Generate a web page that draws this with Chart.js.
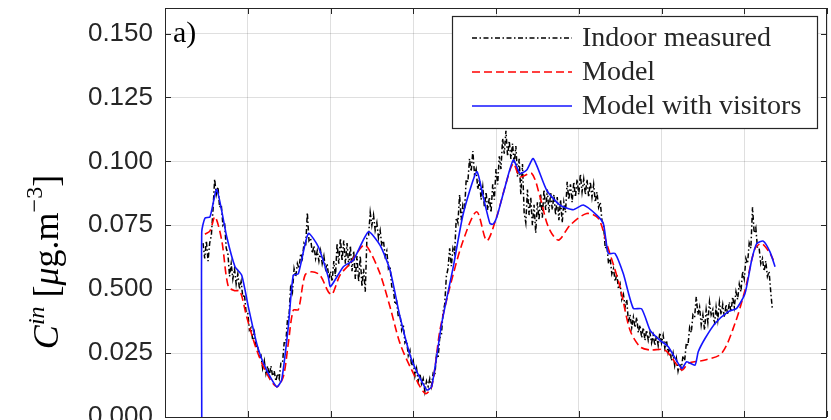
<!DOCTYPE html>
<html>
<head>
<meta charset="utf-8">
<script src="https://cdn.jsdelivr.net/npm/chart.js@4.4.1/dist/chart.umd.min.js"></script>
<style>
  html, body { margin: 0; padding: 0; background: #fff; overflow: hidden; }
  #wrap { width: 831px; height: 420px; }
</style>
</head>
<body>
<div id="wrap"><canvas id="myChart" width="831" height="420"></canvas></div>
<script>
// y tick labels as printed in the figure (including the "0.500" one)
var yTickValues = [0, 0.025, 0.05, 0.075, 0.1, 0.125, 0.15];
var yTickLabels = ['0.000', '0.025', '0.500', '0.075', '0.100', '0.125', '0.150'];

var seriesNames = ['Indoor measured', 'Model', 'Model with visitors'];

// Indoor measured: sampled every 0.02 from 0.46
var measStart = 0.46;
var measStep = 0.02;
var measY = [
  0.068,0.062,0.069,0.061,0.068,0.071,0.081,0.093,0.087,0.090,
  0.082,0.083,0.075,0.076,0.066,0.064,0.055,0.060,0.054,0.058,
  0.052,0.056,0.050,0.053,0.047,0.048,0.041,0.041,0.034,0.035,
  0.030,0.033,0.027,0.028,0.023,0.024,0.019,0.022,0.017,0.020,
  0.016,0.020,0.016,0.018,0.014,0.017,0.015,0.021,0.021,0.029,
  0.029,0.038,0.040,0.052,0.049,0.058,0.055,0.060,0.058,0.064,
  0.062,0.068,0.067,0.080,0.069,0.070,0.064,0.067,0.062,0.065,
  0.061,0.065,0.060,0.063,0.058,0.060,0.054,0.057,0.053,0.061,
  0.055,0.068,0.060,0.070,0.061,0.069,0.060,0.068,0.059,0.067,
  0.057,0.065,0.054,0.063,0.053,0.063,0.051,0.058,0.049,0.070,
  0.071,0.080,0.075,0.079,0.073,0.076,0.070,0.073,0.067,0.069,
  0.063,0.065,0.058,0.059,0.051,0.050,0.044,0.045,0.039,0.040,
  0.034,0.036,0.029,0.030,0.024,0.026,0.020,0.022,0.016,0.019,
  0.014,0.017,0.013,0.015,0.010,0.014,0.012,0.015,0.012,0.017,
  0.016,0.024,0.023,0.031,0.032,0.041,0.044,0.055,0.058,0.066,
  0.059,0.066,0.064,0.078,0.076,0.087,0.077,0.083,0.081,0.093,
  0.092,0.101,0.096,0.104,0.095,0.097,0.089,0.093,0.085,0.090,
  0.082,0.088,0.081,0.086,0.080,0.091,0.085,0.097,0.091,0.102,
  0.097,0.109,0.103,0.112,0.102,0.108,0.101,0.107,0.099,0.106,
  0.094,0.101,0.087,0.099,0.080,0.076,0.089,0.079,0.086,0.075,
  0.083,0.072,0.084,0.077,0.087,0.078,0.089,0.081,0.089,0.080,
  0.088,0.081,0.087,0.079,0.086,0.077,0.085,0.076,0.084,0.080,
  0.092,0.085,0.091,0.084,0.092,0.086,0.093,0.087,0.095,0.088,
  0.093,0.087,0.093,0.086,0.092,0.086,0.091,0.084,0.088,0.082,
  0.084,0.077,0.075,0.066,0.067,0.060,0.062,0.056,0.058,0.053,
  0.056,0.050,0.052,0.046,0.048,0.043,0.046,0.037,0.040,0.035,
  0.039,0.035,0.039,0.033,0.036,0.031,0.035,0.030,0.034,0.030,
  0.033,0.029,0.032,0.028,0.032,0.028,0.033,0.029,0.032,0.027,
  0.030,0.025,0.027,0.022,0.025,0.020,0.023,0.018,0.021,0.019,
  0.024,0.022,0.029,0.028,0.035,0.033,0.040,0.039,0.047,0.040,
  0.043,0.036,0.040,0.034,0.042,0.037,0.045,0.040,0.042,0.036,
  0.043,0.038,0.045,0.040,0.044,0.039,0.044,0.040,0.045,0.041,
  0.047,0.043,0.049,0.046,0.052,0.049,0.057,0.054,0.062,0.060,
  0.068,0.066,0.082,0.072,0.074,0.066,0.066,0.060,0.062,0.057,
  0.061,0.055,0.057,0.049,0.042];

// Model
var modelX = [0.483,0.544,0.604,0.685,0.765,0.846,0.906,0.987,1.108,1.229,1.35,1.43,1.49,1.55,1.611,1.692,1.773,1.873,1.973,2.02,
  2.115,2.236,2.396,2.457,2.598,2.719,2.84,2.981,3.142,3.223,3.323,3.444,3.605,3.767,3.888,4.008,4.109,4.209,4.29,4.431,
  4.532,4.632,4.753,4.894,5.096,5.236,5.338,5.498,5.619,5.74,5.861,6.042,6.244,6.324,6.526,6.727,6.888,7.009,7.13,7.211,
  7.311,7.351];
var modelY = [0.0715,0.0728,0.0783,0.0692,0.051,0.0494,0.0493,0.0392,0.0262,0.0171,0.0118,0.0158,0.0288,0.0418,0.042,0.0555,0.0568,0.0555,0.049,0.048,
  0.0555,0.060,0.0672,0.066,0.0561,0.0431,0.0288,0.0184,0.0092,0.0119,0.034,0.051,0.0692,0.0803,0.069,0.0783,0.09,0.0991,0.0939,0.0953,
  0.0861,0.0744,0.0692,0.075,0.0796,0.0777,0.0678,0.051,0.034,0.0275,0.0262,0.0262,0.0184,0.021,0.0223,0.0249,0.0366,0.0496,0.0659,0.0678,
  0.064,0.0614];

// Model with visitors
var visX = [0.444,0.444,0.483,0.544,0.625,0.746,0.846,0.927,1.007,1.108,1.208,1.35,1.41,1.49,1.55,1.611,1.732,1.853,1.973,2.0,
  2.155,2.276,2.457,2.598,2.719,2.84,2.981,3.162,3.223,3.344,3.484,3.605,3.767,3.846,3.927,3.967,4.008,4.088,4.209,4.29,
  4.371,4.451,4.613,4.773,4.934,5.055,5.217,5.297,5.357,5.438,5.538,5.659,5.76,5.861,5.921,5.982,6.082,6.244,6.305,6.405,
  6.444,6.526,6.647,6.807,6.908,7.009,7.09,7.15,7.23,7.311,7.372];
var visY = [0,0.0724,0.0778,0.0783,0.089,0.0705,0.0588,0.0555,0.0431,0.0288,0.0197,0.0118,0.0145,0.0353,0.0555,0.056,0.0718,0.0666,0.0548,0.051,
  0.0588,0.0614,0.0724,0.0672,0.0575,0.0392,0.0223,0.0106,0.0119,0.0366,0.0588,0.0796,0.0959,0.0861,0.0757,0.0755,0.078,0.0874,0.1005,0.0953,
  0.0966,0.1011,0.0887,0.0829,0.0811,0.0829,0.079,0.0757,0.064,0.064,0.0561,0.0425,0.0423,0.034,0.0318,0.030,0.0275,0.019,0.0216,0.0203,
  0.0255,0.0307,0.0366,0.0412,0.0425,0.0483,0.0614,0.0678,0.0688,0.0646,0.0588];

function toPoints(xs, ys) {
	var pts = [];
	for (var i = 0; i < ys.length; i++) {
		pts.push({x: xs[i], y: ys[i]});
	}
	return pts;
}

// sample times of the measurement
var measX = [];
for (var k = 0; k < measY.length; k++) {
	measX[k] = +(measStart + k * measStep).toFixed(2);
}

var axisColor = '#262626';
var serif = '"Liberation Serif", "Times New Roman", serif';

// box, inward ticks, panel label, y title, legend
var decorPlugin = {
	id: 'decor',
	afterDatasetsDraw: function(chart) {
		var ctx = chart.ctx;
		var a = chart.chartArea;
		var xs = chart.scales.x;
		var ys = chart.scales.y;
		var i;
		ctx.save();

		// frame
		ctx.strokeStyle = axisColor;
		ctx.lineWidth = 1;
		ctx.strokeRect(a.left + 0.5, a.top + 0.5, a.right - a.left - 1, a.bottom - a.top);

		// inward tick marks
		ctx.beginPath();
		for (i = 0; i <= 8; i++) {
			var px = Math.round(xs.getPixelForValue(i)) + 0.5;
			ctx.moveTo(px, a.top); ctx.lineTo(px, a.top + 6);
			ctx.moveTo(px, a.bottom); ctx.lineTo(px, a.bottom - 6);
		}
		for (i = 0; i < yTickValues.length; i++) {
			var py = Math.round(ys.getPixelForValue(yTickValues[i])) + 0.5;
			ctx.moveTo(a.left, py); ctx.lineTo(a.left + 6, py);
			ctx.moveTo(a.right, py); ctx.lineTo(a.right - 6, py);
		}
		ctx.stroke();

		// panel label
		ctx.fillStyle = '#000';
		ctx.font = '30px ' + serif;
		ctx.textBaseline = 'alphabetic';
		ctx.textAlign = 'left';
		ctx.fillText('a)', a.left + 8, a.top + 34);

		// y axis title C^in [mu g.m^-3]
		var parts = [
			{t: 'C', f: 'italic 36px ' + serif, dy: 0},
			{t: 'in', f: 'italic 24px ' + serif, dy: -14},
			{t: ' [', f: '36px ' + serif, dy: 0},
			{t: 'μ', f: 'italic 36px ' + serif, dy: 0},
			{t: 'g.m', f: '36px ' + serif, dy: 0},
			{t: '−3', f: '24px ' + serif, dy: -16},
			{t: ']', f: '36px ' + serif, dy: 0}
		];
		var total = 0;
		for (i = 0; i < parts.length; i++) {
			ctx.font = parts[i].f;
			parts[i].w = ctx.measureText(parts[i].t).width;
			total += parts[i].w;
		}
		ctx.save();
		ctx.translate(58, 262);
		ctx.rotate(-Math.PI / 2);
		ctx.fillStyle = '#000';
		var cx = -total / 2;
		for (i = 0; i < parts.length; i++) {
			ctx.font = parts[i].f;
			ctx.fillText(parts[i].t, cx, parts[i].dy);
			cx += parts[i].w;
		}
		ctx.restore();

		// legend box
		var bw = 365, bh = 112;
		var bx = a.right - 10 - bw, by = a.top + 8;
		ctx.fillStyle = '#fff';
		ctx.fillRect(bx, by, bw, bh);
		ctx.strokeStyle = axisColor;
		ctx.lineWidth = 1.2;
		ctx.strokeRect(bx + 0.5, by + 0.5, bw, bh);
		var rows = [22, 56, 90];
		var ds = chart.data.datasets;
		for (i = 0; i < ds.length; i++) {
			var yy = by + rows[i];
			ctx.beginPath();
			ctx.strokeStyle = ds[i].borderColor;
			ctx.lineWidth = ds[i].borderWidth;
			ctx.setLineDash(ds[i].borderDash || []);
			ctx.moveTo(bx + 20, yy);
			ctx.lineTo(bx + 120, yy);
			ctx.stroke();
			ctx.setLineDash([]);
			ctx.fillStyle = axisColor;
			ctx.font = '28px ' + serif;
			ctx.textBaseline = 'middle';
			ctx.fillText(ds[i].label, bx + 130, yy + 1);
		}
		ctx.restore();
	}
};

var ctx = document.getElementById('myChart').getContext('2d');
var chart = new Chart(ctx, {
	type: 'line',
	data: {
		datasets: [{
			label: seriesNames[0],
			data: toPoints(measX, measY),
			borderColor: '#000000',
			borderWidth: 1.5,
			borderDash: [5, 2.5, 1.5, 2.5],
			tension: 0,
			order: 2
		}, {
			label: seriesNames[1],
			data: toPoints(modelX, modelY),
			borderColor: '#ff0000',
			borderWidth: 1.6,
			borderDash: [8, 4],
			tension: 0.3,
			order: 1
		}, {
			label: seriesNames[2],
			data: toPoints(visX, visY),
			borderColor: '#1515ff',
			borderWidth: 1.6,
			tension: 0.2,
			order: 0
		}]
	},
	options: {
		responsive: false,
		animation: false,
		layout: { padding: { top: 8, right: 4, left: 0, bottom: 0 } },
		elements: { point: { radius: 0 } },
		plugins: {
			legend: { display: false },
			tooltip: { enabled: false }
		},
		scales: {
			x: {
				type: 'linear',
				min: 0,
				max: 8,
				ticks: { display: false, stepSize: 1 },
				grid: { color: 'rgba(38,38,38,0.15)', drawTicks: false },
				border: { display: false },
				afterFit: function(scale) {
					scale.height = 3;
					scale.paddingLeft = 0; scale.paddingRight = 0;
				}
			},
			y: {
				min: 0,
				max: 0.16,
				ticks: {
					stepSize: 0.025,
					includeBounds: false,
					padding: 12,
					color: axisColor,
					font: { family: '"Liberation Sans", Arial, sans-serif', size: 26 },
					callback: function(value) {
						for (var k = 0; k < yTickValues.length; k++) {
							if (Math.abs(value - yTickValues[k]) < 1e-6) return yTickLabels[k];
						}
						return '';
					}
				},
				grid: { color: 'rgba(38,38,38,0.15)', drawTicks: false },
				border: { display: false },
				afterFit: function(scale) {
					scale.width = 165;
					scale.paddingTop = 0; scale.paddingBottom = 0;
				}
			}
		}
	},
	plugins: [decorPlugin]
});
</script>
</body>
</html>
